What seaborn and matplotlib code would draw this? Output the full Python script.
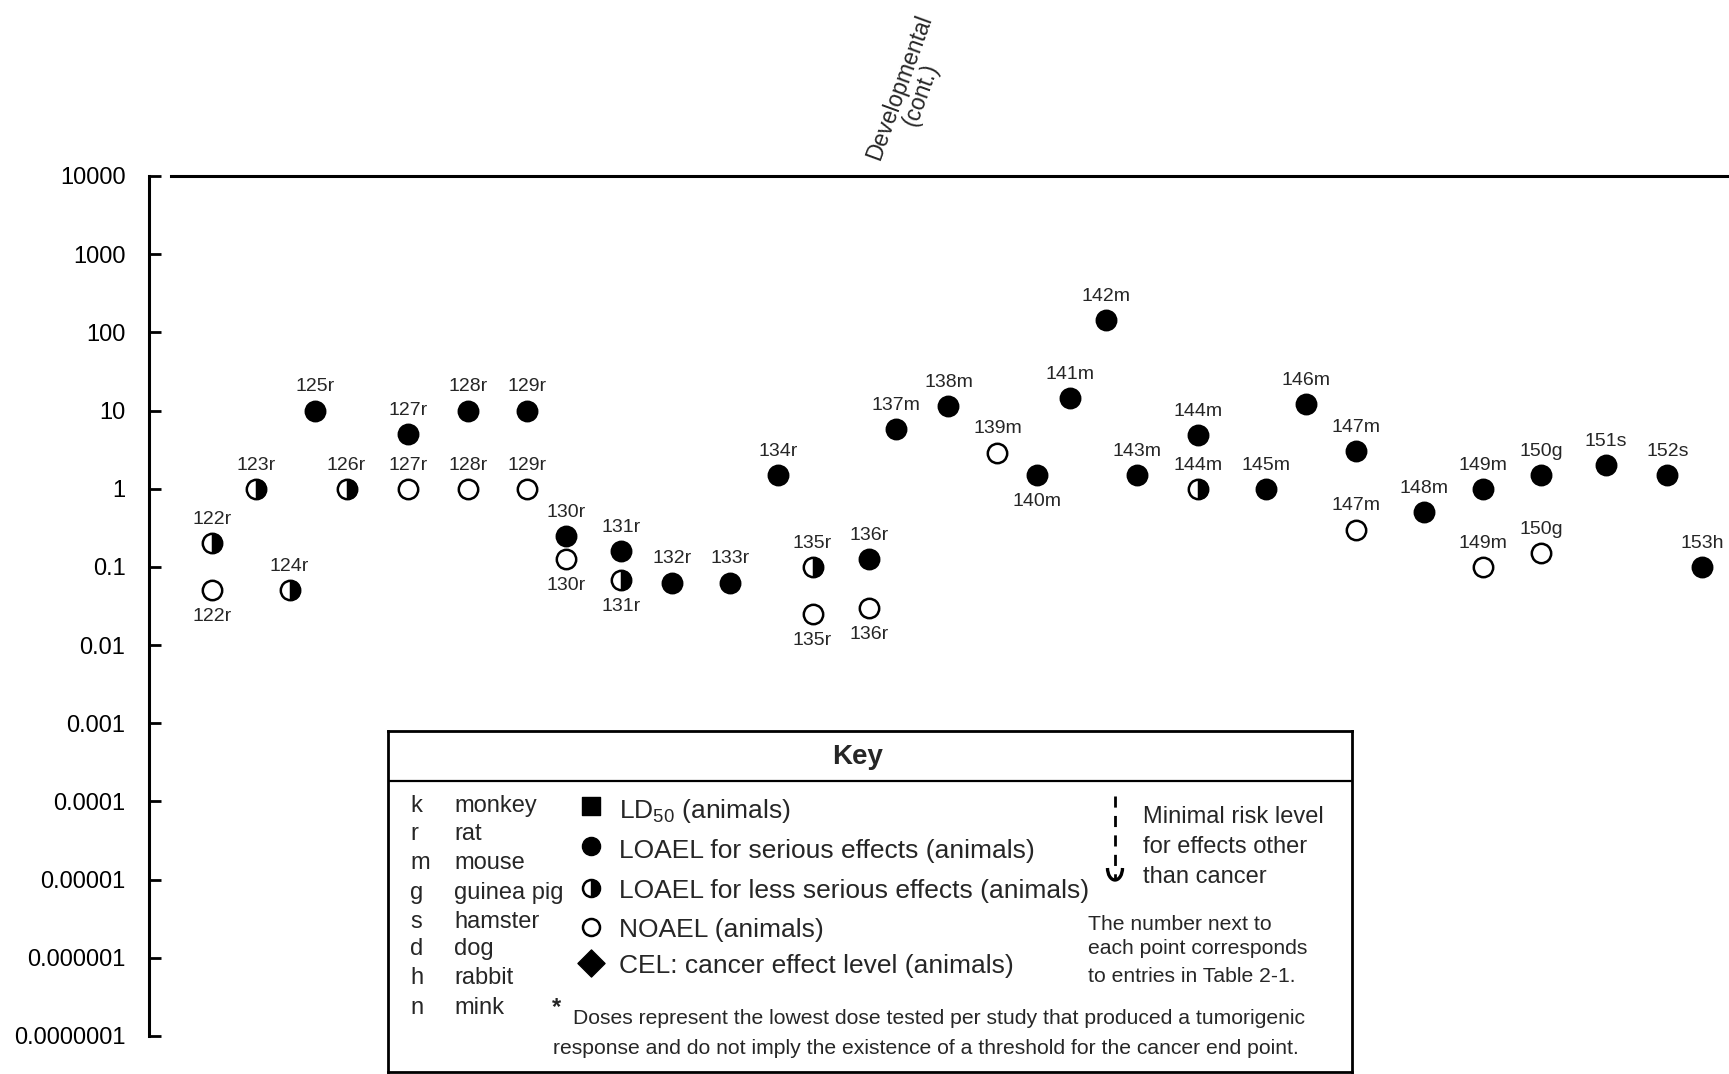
import matplotlib
matplotlib.use("Agg")
import matplotlib.pyplot as plt
from matplotlib.markers import MarkerStyle
from matplotlib.patches import Arc
import pandas as pd
import seaborn as sns

# study entries (Table 2-1 numbers + species letter)
studies = ['122r', '122r', '123r', '124r', '125r', '126r', '127r', '127r',
           '128r', '128r', '129r', '129r', '130r', '130r', '131r', '131r',
           '132r', '133r', '134r', '135r', '135r', '136r', '136r', '137m',
           '138m', '139m', '140m', '141m', '142m', '143m', '144m', '144m',
           '145m', '146m', '147m', '147m', '148m', '149m', '149m', '150g',
           '150g', '151s', '152s', '153h']
# column position of each study along the endpoint axis
column = [4.0, 4.0, 6.8, 8.9, 10.5, 12.5, 16.4, 16.4,
          20.2, 20.2, 23.9, 23.9, 26.4, 26.4, 29.9, 29.9,
          33.1, 36.8, 39.8, 42.0, 42.0, 45.6, 45.6, 47.3,
          50.6, 53.7, 56.2, 58.3, 60.6, 62.5, 66.4, 66.4,
          70.7, 73.2, 76.4, 76.4, 80.7, 84.4, 84.4, 88.1,
          88.1, 92.2, 96.1, 98.3]
dose = [0.2, 0.05, 1, 0.05, 10, 1, 5, 1,
        10, 1, 10, 1, 0.25, 0.125, 0.16, 0.068,
        0.063, 0.063, 1.5, 0.1, 0.025, 0.125, 0.03, 5.8,
        11.5, 2.9, 1.5, 14.5, 145, 1.5, 4.8, 1,
        1, 12.2, 3, 0.3, 0.5, 1, 0.1, 1.5,
        0.15, 2, 1.5, 0.1]
effect = ['less', 'noael', 'less', 'less', 'serious', 'less', 'serious', 'noael',
          'serious', 'noael', 'serious', 'noael', 'serious', 'noael', 'serious', 'less',
          'serious', 'serious', 'serious', 'less', 'noael', 'serious', 'noael', 'serious',
          'serious', 'noael', 'serious', 'serious', 'serious', 'serious', 'serious', 'less',
          'serious', 'serious', 'serious', 'noael', 'serious', 'serious', 'noael', 'serious',
          'noael', 'serious', 'serious', 'serious']

# labels drawn under the point instead of above
labels_below = {('122r', 'noael'), ('130r', 'noael'), ('131r', 'less'),
                ('135r', 'noael'), ('136r', 'noael'), ('140m', 'serious')}

ytick_vals = [1e-7, 1e-6, 1e-5, 1e-4, 1e-3, 1e-2, 1e-1, 1, 10, 100, 1000, 10000]
ytick_labels = ['0.0000001', '0.000001', '0.00001', '0.0001', '0.001', '0.01',
                '0.1', '1', '10', '100', '1000', '10000']

species = [('k', 'monkey'), ('r', 'rat'), ('m', 'mouse'), ('g', 'guinea pig'),
           ('s', 'hamster'), ('d', 'dog'), ('h', 'rabbit'), ('n', 'mink')]

df = pd.DataFrame({'study': studies, 'column': column, 'dose': dose, 'effect': effect})

sns.set_style('white')
plt.rcParams['font.family'] = ['Liberation Sans', 'DejaVu Sans']
plt.rcParams['mathtext.fontset'] = 'custom'
plt.rcParams['mathtext.rm'] = 'Liberation Sans'

W, H = 1729, 1074
fig = plt.figure(figsize=(W / 100, H / 100), dpi=100)
ax = fig.add_axes([149 / W, 38 / H, 1 - 149 / W, (1036 - 176) / H])

S = 195
LW = 1.8
serious = df[df.effect == 'serious']
noael = df[df.effect == 'noael']
less = df[df.effect == 'less']
sns.scatterplot(data=serious, x='column', y='dose', ax=ax, s=S, color='black',
                edgecolor='black', linewidth=LW, zorder=3)
sns.scatterplot(data=pd.concat([noael, less]), x='column', y='dose', ax=ax, s=S,
                color='white', edgecolor='black', linewidth=LW, zorder=3)
sns.scatterplot(data=less, x='column', y='dose', ax=ax, s=S, color='black',
                marker=MarkerStyle('o', fillstyle='right'), edgecolor='black',
                linewidth=LW * 0.6, zorder=4)

for _, row in df.iterrows():
    if (row.study, row.effect) in labels_below:
        off = -19
    else:
        off = 17
    ax.annotate(row.study, (row.column, row.dose), xytext=(0, off),
                textcoords='offset points', ha='center', va='center', fontsize=14)

ax.set_yscale('log')
ax.set_ylim(1e-7, 1e4)
ax.set_xlim(0, 100)
ax.set_yticks(ytick_vals)
ax.set_yticklabels(ytick_labels)
ax.minorticks_off()
ax.set_xticks([])
ax.set_xlabel('')
ax.set_ylabel('')
ax.tick_params(axis='y', direction='in', length=8.5, width=2, pad=17,
               labelsize=17, colors='black', left=True)
for side in ['right', 'bottom']:
    ax.spines[side].set_visible(False)
ax.spines['left'].set_linewidth(2.2)
ax.spines['left'].set_color('black')
ax.spines['top'].set_linewidth(2.2)
ax.spines['top'].set_color('black')
ax.spines['top'].set_bounds(1.4, 100)
ax.patch.set_alpha(0)

fig.text(910 / W, 1 - 91 / H, 'Developmental\n(cont.)', rotation=70,
         ha='center', va='center', multialignment='center', fontsize=16.5,
         rotation_mode='anchor', linespacing=1.0)

# Key box, in pixel units
kax = fig.add_axes([388 / W, 2 / H, (1352 - 388) / W, (1072 - 731) / H])
kax.set_xlim(388, 1352)
kax.set_ylim(1072, 731)
kax.set_xticks([])
kax.set_yticks([])
for sp in kax.spines.values():
    sp.set_linewidth(2)
    sp.set_color('black')
kax.axhline(781, color='black', lw=1.6)
kax.text(858, 757, 'Key', ha='center', va='center', fontsize=20, fontweight='bold')

rows_y = [806, 834, 863, 893, 922, 949, 978, 1008]
for (letter, name), y in zip(species, rows_y):
    kax.text(410, y, letter, va='center', fontsize=17)
    kax.text(454, y, name, va='center', fontsize=17)

sym_y = [806, 846, 888, 927, 963]
txt_y = [811, 851, 891, 930, 966]
kax.scatter([591], [sym_y[0]], marker='s', s=150, color='black', clip_on=False)
kax.scatter([591], [sym_y[1]], marker='o', s=170, color='black')
kax.scatter([591], [sym_y[2]], marker='o', s=150, facecolor='white', edgecolor='black', linewidth=1.8)
kax.scatter([591], [sym_y[2]], marker=MarkerStyle('o', fillstyle='right'), s=150, color='black')
kax.scatter([591], [sym_y[3]], marker='o', s=150, facecolor='white', edgecolor='black', linewidth=1.8)
kax.scatter([591], [sym_y[4]], marker='D', s=190, color='black')
key_txt = ['LD$_\\mathregular{50}$ (animals)', 'LOAEL for serious effects (animals)',
           'LOAEL for less serious effects (animals)', 'NOAEL (animals)',
           'CEL: cancer effect level (animals)']
for t, y in zip(key_txt, txt_y):
    kax.text(619, y, t, va='center', fontsize=19)

kax.plot([1115, 1115], [796, 880], color='black', lw=2, ls=(0, (4, 3)))
kax.add_patch(Arc((1115, 868), 15, 24, theta1=0, theta2=180, color='black', lw=2.4))
for t, y in zip(['Minimal risk level', 'for effects other', 'than cancer'], [817, 847, 877]):
    kax.text(1143, y, t, va='center', fontsize=17)
for t, y in zip(['The number next to', 'each point corresponds', 'to entries in Table 2-1.'],
                [924, 949, 976]):
    kax.text(1088, y, t, va='center', fontsize=15.2)

kax.text(552, 1008, '*', va='center', fontsize=17, fontweight='bold')
kax.text(573, 1019, 'Doses represent the lowest dose tested per study that produced a tumorigenic',
         va='center', fontsize=15.2)
kax.text(553, 1048, 'response and do not imply the existence of a threshold for the cancer end point.',
         va='center', fontsize=15.2)

fig.savefig('out.png', dpi=100, facecolor='white')
